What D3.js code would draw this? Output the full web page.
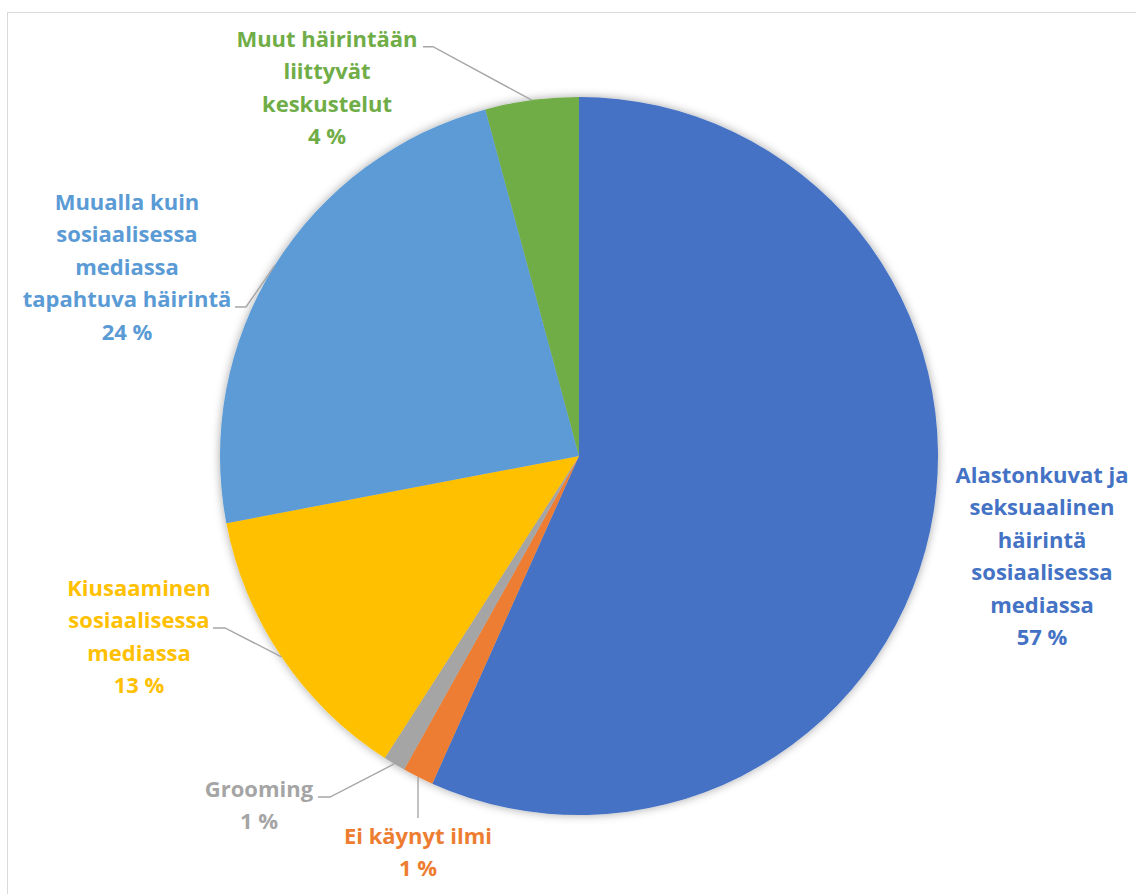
<!DOCTYPE html>
<html>
<head>
<meta charset="utf-8">
<script src="https://cdn.jsdelivr.net/npm/d3@7"></script>
<style>
  html, body { margin: 0; padding: 0; background: #fff; }
  svg { display: block; }
</style>
</head>
<body>
<svg id="chart" width="1136" height="894"></svg>
<script>
// ---- data ----
const categories = [
  "Alastonkuvat ja seksuaalinen häirintä sosiaalisessa mediassa",
  "Ei käynyt ilmi",
  "Grooming",
  "Kiusaaminen sosiaalisessa mediassa",
  "Muualla kuin sosiaalisessa mediassa tapahtuva häirintä",
  "Muut häirintään liittyvät keskustelut"
];
const values = [56.7, 1.4, 1.0, 12.9, 23.8, 4.2];
const labelLines = [
  ["Alastonkuvat ja", "seksuaalinen", "häirintä", "sosiaalisessa", "mediassa"],
  ["Ei käynyt ilmi"],
  ["Grooming"],
  ["Kiusaaminen", "sosiaalisessa", "mediassa"],
  ["Muualla kuin", "sosiaalisessa", "mediassa", "tapahtuva häirintä"],
  ["Muut häirintään", "liittyvät", "keskustelut"]
];
const colors = ["#4472C4", "#ED7D31", "#A5A5A5", "#FFC000", "#5B9BD5", "#70AD47"];

// ---- layout ----
const W = 1136, H = 894;
const cx = 579, cy = 456, R = 359;
const lineH = 32.4;
const fontSize = 22;
// label anchor (centre x, first baseline) and leader line start/elbow
const labelLayout = [
  { x: 1042, y: 483, leader: null },
  { x: 418, y: 844, leader: [[418, 818]] },
  { x: 259, y: 797, leader: [[318, 797], [330, 797]] },
  { x: 139, y: 596, leader: [[213, 628], [225, 628]] },
  { x: 127, y: 210, leader: [[235, 307], [246, 307]] },
  { x: 327, y: 46.7, leader: [[423, 46.7], [433, 46.7]] }
];

const svg = d3.select("#chart");

// chart border
svg.append("rect")
  .attr("x", 7.5).attr("y", 12.5)
  .attr("width", W + 20).attr("height", H + 20)
  .attr("fill", "#fff")
  .attr("stroke", "#D9D9D9").attr("stroke-width", 1);

const defs = svg.append("defs");
const f = defs.append("filter").attr("id", "shadow")
  .attr("x", "-10%").attr("y", "-10%").attr("width", "120%").attr("height", "120%");
f.append("feGaussianBlur").attr("in", "SourceAlpha").attr("stdDeviation", 5).attr("result", "blur");
f.append("feFlood").attr("flood-color", "#000").attr("flood-opacity", 0.35).attr("result", "col");
f.append("feComposite").attr("in", "col").attr("in2", "blur").attr("operator", "in").attr("result", "sh");
const fm = f.append("feMerge");
fm.append("feMergeNode").attr("in", "sh");
fm.append("feMergeNode").attr("in", "SourceGraphic");

const total = d3.sum(values);
const pie = d3.pie().sort(null).value(d => d)(values);
const arc = d3.arc().innerRadius(0).outerRadius(R);

const g = svg.append("g").attr("transform", `translate(${cx},${cy})`);
g.append("g").attr("filter", "url(#shadow)")
  .selectAll("path").data(pie).join("path")
  .attr("d", arc)
  .attr("fill", (d, i) => colors[i]);

// leader lines
pie.forEach((d, i) => {
  const L = labelLayout[i].leader;
  if (!L) return;
  const mid = (d.startAngle + d.endAngle) / 2;
  const end = [cx + R * Math.sin(mid), cy - R * Math.cos(mid)];
  const pts = L.concat([end]);
  svg.append("path")
    .attr("d", d3.line()(pts))
    .attr("fill", "none")
    .attr("stroke", "#A6A6A6")
    .attr("stroke-width", 1.4);
});

// labels
pie.forEach((d, i) => {
  const lay = labelLayout[i];
  const pct = Math.round(values[i] / total * 100) + " %";
  const lines = labelLines[i].concat([pct]);
  const t = svg.append("text")
    .attr("text-anchor", "middle")
    .attr("font-family", "'Open Sans', Lato, sans-serif")
    .attr("font-weight", "bold")
    .attr("font-size", fontSize)
    .attr("fill", colors[i]);
  lines.forEach((ln, k) => {
    t.append("tspan").attr("x", lay.x).attr("y", lay.y + k * lineH).text(ln);
  });
});
</script>
</body>
</html>
